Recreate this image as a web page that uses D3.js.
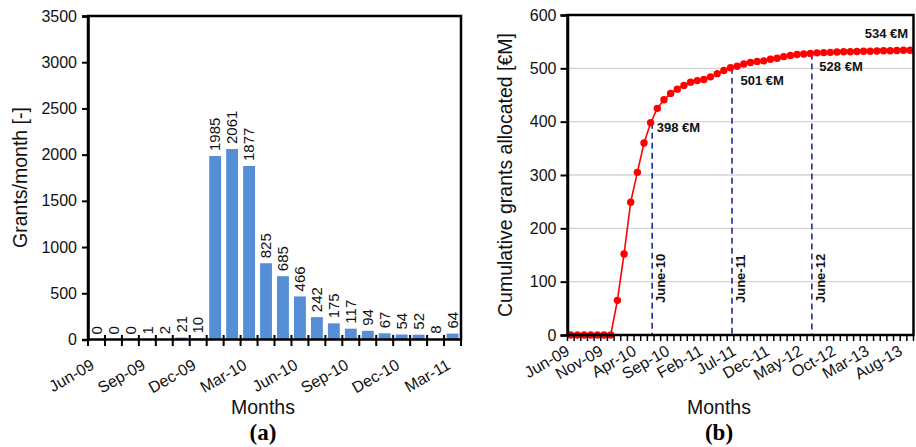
<!DOCTYPE html>
<html>
<head>
<meta charset="utf-8">
<script src="https://cdn.jsdelivr.net/npm/d3@7"></script>
<style>
  body { margin: 0; background: #fff; }
  svg { display: block; font-family: "Liberation Sans", Arial, sans-serif; }
</style>
</head>
<body>
<svg id="chart" width="916" height="447"></svg>
<script>
// (a) grants per month
var monthsA = ["Jun-09", "Jul-09", "Aug-09", "Sep-09", "Oct-09", "Nov-09", "Dec-09",
               "Jan-10", "Feb-10", "Mar-10", "Apr-10", "May-10", "Jun-10", "Jul-10",
               "Aug-10", "Sep-10", "Oct-10", "Nov-10", "Dec-10", "Jan-11", "Feb-11", "Mar-11"];
var grantsPerMonth = [0, 0, 0, 1, 2, 21, 10, 1985, 2061, 1877, 825, 685, 466, 242,
                      175, 117, 94, 67, 54, 52, 8, 64];
var ticksA = [0, 500, 1000, 1500, 2000, 2500, 3000, 3500];

// (b) cumulative grants allocated, M EUR
var monthsB = ["Jun-09", "Jul-09", "Aug-09", "Sep-09", "Oct-09", "Nov-09", "Dec-09",
               "Jan-10", "Feb-10", "Mar-10", "Apr-10", "May-10", "Jun-10", "Jul-10",
               "Aug-10", "Sep-10", "Oct-10", "Nov-10", "Dec-10", "Jan-11", "Feb-11",
               "Mar-11", "Apr-11", "May-11", "Jun-11", "Jul-11", "Aug-11", "Sep-11",
               "Oct-11", "Nov-11", "Dec-11", "Jan-12", "Feb-12", "Mar-12", "Apr-12",
               "May-12", "Jun-12", "Jul-12", "Aug-12", "Sep-12", "Oct-12", "Nov-12",
               "Dec-12", "Jan-13", "Feb-13", "Mar-13", "Apr-13", "May-13", "Jun-13",
               "Jul-13", "Aug-13", "Sep-13"];
var cumulative = [0, 0, 0, 0, 0, 0, 0, 65, 152, 249, 305, 360, 398, 425, 441, 453,
                  461, 468, 474, 477, 479, 484, 490, 496, 501, 504, 508, 511, 513, 514,
                  517, 519, 522, 524, 526, 527, 528, 529, 529.5, 530, 530.5, 531, 531,
                  531.5, 532, 532, 532.5, 533, 533, 533.5, 534, 534];
var ticksB = [0, 100, 200, 300, 400, 500, 600];
var milestones = ["Jun-10", "Jun-11", "Jun-12"];
var milestoneLabels = ["June-10", "June-11", "June-12"];
var valueNotes = ["Jun-10", "Jun-11", "Jun-12", "Sep-13"];

var svg = d3.select("#chart");
var ink = "#111";
var font = "'Liberation Sans', Arial, sans-serif";

// ---------- panel (a) ----------
var a = svg.append("g");
var xA = d3.scaleBand().domain(monthsA).range([88, 461]);
var yA = d3.scaleLinear().domain([0, 3500]).range([339.5, 16]);

a.append("g")
  .selectAll("rect")
  .data(grantsPerMonth)
  .enter()
  .append("rect")
  .attr("x", function (d, i) { return xA(monthsA[i]) + xA.bandwidth() * 0.15; })
  .attr("width", xA.bandwidth() * 0.7)
  .attr("y", function (d) { return yA(d); })
  .attr("height", function (d) { return yA(0) - yA(d); })
  .attr("fill", "#558ed5");

// value labels, rotated
a.append("g")
  .selectAll("text")
  .data(grantsPerMonth)
  .enter()
  .append("text")
  .attr("transform", function (d, i) {
    return "translate(" + (xA(monthsA[i]) + xA.bandwidth() / 2) + "," + (yA(d) - 5) + ") rotate(-90)";
  })
  .attr("dy", "0.35em")
  .style("font-size", "15px")
  .attr("fill", ink)
  .text(function (d) { return d; });

// frame
a.append("rect")
  .attr("x", 88).attr("y", 16)
  .attr("width", 461 - 88).attr("height", 339.5 - 16)
  .attr("fill", "none").attr("stroke", "#000").attr("stroke-width", 2.5);

var axA = a.append("g")
  .attr("transform", "translate(88,0)")
  .call(d3.axisLeft(yA).tickValues(ticksA).tickFormat(d3.format("d")).tickSize(6).tickPadding(5))
  .attr("font-family", font);
axA.select(".domain").attr("stroke-width", 2.5);
axA.selectAll(".tick line").attr("stroke-width", 2);
axA.selectAll("text").style("font-size", "16px").attr("fill", ink);

// category boundary ticks
var edgesA = monthsA.map(function (m) { return xA(m); }).concat([xA.range()[1]]);
a.append("g")
  .selectAll("line")
  .data(edgesA)
  .enter()
  .append("line")
  .attr("x1", function (d) { return d; }).attr("x2", function (d) { return d; })
  .attr("y1", 335).attr("y2", 346)
  .attr("stroke", "#000").attr("stroke-width", 2);

a.append("g")
  .selectAll("text")
  .data(monthsA.filter(function (m, i) { return i % 3 === 0; }))
  .enter()
  .append("text")
  .attr("transform", function (m) {
    return "translate(" + (xA(m) + xA.bandwidth() / 2 - 1) + ",368) rotate(-30)";
  })
  .attr("text-anchor", "end")
  .style("font-size", "16px")
  .attr("fill", ink)
  .text(function (m) { return m; });

a.append("text")
  .attr("transform", "translate(20,177.5) rotate(-90)")
  .attr("text-anchor", "middle").attr("dy", "0.35em")
  .style("font-size", "19.5px").attr("fill", ink)
  .text("Grants/month [-]");

a.append("text")
  .attr("x", 263).attr("y", 414)
  .attr("text-anchor", "middle")
  .style("font-size", "19.5px").attr("fill", ink)
  .text("Months");

a.append("text")
  .attr("x", 263).attr("y", 440)
  .attr("text-anchor", "middle")
  .style("font-family", "'Liberation Serif', 'Times New Roman', serif")
  .style("font-size", "23px").style("font-weight", "bold")
  .text("(a)");

// ---------- panel (b) ----------
var b = svg.append("g");
var xB = d3.scaleBand().domain(monthsB).range([567.5, 913.5]);
var yB = d3.scaleLinear().domain([0, 600]).range([335, 15]);
function cx(m) { return xB(m) + xB.bandwidth() / 2; }

b.append("g")
  .selectAll("line")
  .data(ticksB.slice(1, -1))
  .enter()
  .append("line")
  .attr("x1", 567.5).attr("x2", 913.5)
  .attr("y1", function (d) { return yB(d); }).attr("y2", function (d) { return yB(d); })
  .attr("stroke", "#d4d4d4").attr("stroke-width", 1.3);

// dashed milestone lines
b.append("g")
  .selectAll("line")
  .data(milestones)
  .enter()
  .append("line")
  .attr("x1", function (m) { return cx(m) + 1.5; })
  .attr("x2", function (m) { return cx(m) + 1.5; })
  .attr("y1", function (m) { return yB(cumulative[monthsB.indexOf(m)]); })
  .attr("y2", 335)
  .attr("stroke", "#1f2a9e").attr("stroke-width", 1.6)
  .attr("stroke-dasharray", "6,4");

b.append("g")
  .selectAll("text")
  .data(milestones)
  .enter()
  .append("text")
  .attr("transform", function (m) { return "translate(" + (cx(m) + 10) + ",303) rotate(-90)"; })
  .attr("dy", "0.35em")
  .style("font-size", "13px").style("font-weight", "bold")
  .attr("fill", ink)
  .text(function (m, i) { return milestoneLabels[i]; });

var line = d3.line()
  .x(function (d, i) { return cx(monthsB[i]); })
  .y(function (d) { return yB(d); });

b.append("path")
  .datum(cumulative)
  .attr("d", line)
  .attr("fill", "none").attr("stroke", "#ff0000").attr("stroke-width", 1.6);

b.append("g")
  .selectAll("circle")
  .data(cumulative)
  .enter()
  .append("circle")
  .attr("cx", function (d, i) { return cx(monthsB[i]); })
  .attr("cy", function (d) { return yB(d); })
  .attr("r", 3.7)
  .attr("fill", "#ff0000");

// value notes next to milestone points
var noteDx = [6, 10, 9, -2];
var noteDy = [9, 17, 18, -12];
b.append("g")
  .selectAll("text")
  .data(valueNotes)
  .enter()
  .append("text")
  .attr("x", function (m, i) { return cx(m) + noteDx[i]; })
  .attr("y", function (m, i) { return yB(cumulative[monthsB.indexOf(m)]) + noteDy[i]; })
  .attr("text-anchor", function (m, i) { return i === 3 ? "end" : "start"; })
  .style("font-size", "13px").style("font-weight", "bold")
  .attr("fill", ink)
  .text(function (m) { return Math.round(cumulative[monthsB.indexOf(m)]) + " \u20acM"; });

b.append("rect")
  .attr("x", 567.5).attr("y", 15)
  .attr("width", 913.5 - 567.5).attr("height", 335 - 15)
  .attr("fill", "none").attr("stroke", "#000").attr("stroke-width", 2.5);

var axB = b.append("g")
  .attr("transform", "translate(567.5,0)")
  .call(d3.axisLeft(yB).tickValues(ticksB).tickFormat(d3.format("d")).tickSize(7).tickPadding(4))
  .attr("font-family", font);
axB.select(".domain").attr("stroke-width", 2.5);
axB.selectAll(".tick line").attr("stroke-width", 2);
axB.selectAll("text").style("font-size", "16px").attr("fill", ink);

var edgesB = monthsB.map(function (m) { return xB(m); }).concat([xB.range()[1]]);
b.append("g")
  .selectAll("line")
  .data(edgesB)
  .enter()
  .append("line")
  .attr("x1", function (d) { return d; }).attr("x2", function (d) { return d; })
  .attr("y1", 335).attr("y2", 341)
  .attr("stroke", "#000").attr("stroke-width", 1.5);

b.append("g")
  .selectAll("text")
  .data(monthsB.filter(function (m, i) { return i % 5 === 0; }))
  .enter()
  .append("text")
  .attr("transform", function (m) { return "translate(" + cx(m) + ",354) rotate(-30)"; })
  .attr("text-anchor", "end")
  .style("font-size", "16px")
  .attr("fill", ink)
  .text(function (m) { return m; });

b.append("text")
  .attr("transform", "translate(505,175) rotate(-90)")
  .attr("text-anchor", "middle").attr("dy", "0.35em")
  .style("font-size", "19.5px").attr("fill", ink)
  .text("Cumulative grants allocated [\u20acM]");

b.append("text")
  .attr("x", 719).attr("y", 414)
  .attr("text-anchor", "middle")
  .style("font-size", "19.5px").attr("fill", ink)
  .text("Months");

b.append("text")
  .attr("x", 719).attr("y", 440)
  .attr("text-anchor", "middle")
  .style("font-family", "'Liberation Serif', 'Times New Roman', serif")
  .style("font-size", "23px").style("font-weight", "bold")
  .text("(b)");
</script>
</body>
</html>
